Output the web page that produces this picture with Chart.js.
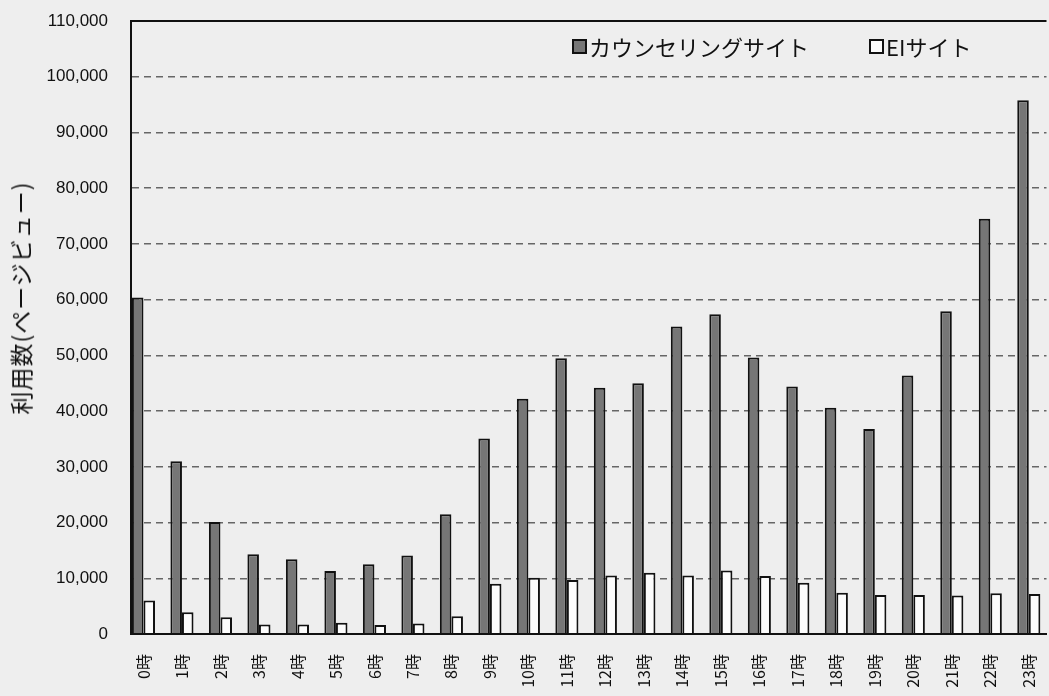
<!DOCTYPE html>
<html lang="ja">
<head>
<meta charset="UTF-8">
<title>時間帯別利用数</title>
<script src="https://cdn.jsdelivr.net/npm/chart.js@4.4.1/dist/chart.umd.min.js"></script>
<style>
    html, body { margin: 0; padding: 0; background: #eeeeee; overflow: hidden; }
    .wrap { position: relative; width: 1049px; height: 696px; }
    #usageChart { position: absolute; left: 0; top: 0; }
    .axis-title {
        position: absolute; left: 20px; top: 298px;
        transform: translate(-50%, -50%) rotate(-90deg);
        font-family: "Noto Sans CJK JP", sans-serif; font-size: 23px; color: #111;
        white-space: nowrap; letter-spacing: 1px;
    }
    .legend {
        position: absolute; left: 572px; top: 32px; display: flex;
        font-family: "Noto Sans CJK JP", sans-serif; font-size: 22px; color: #111;
        line-height: 28px;
    }
    .legend-item { display: flex; align-items: center; margin-right: 60px; }
    .legend-box { width: 11px; height: 11px; border: 2px solid #111; margin-right: 2px; }
</style>
</head>
<body>
<div class="wrap">
    <canvas id="usageChart" width="1049" height="696"></canvas>
    <div class="axis-title" id="yTitle"></div>
    <div class="legend" id="legend"></div>
</div>
<script>
// Datos: categorías (hora del día)
const hours = ['0時', '1時', '2時', '3時', '4時', '5時', '6時', '7時', '8時', '9時', '10時', '11時',
               '12時', '13時', '14時', '15時', '16時', '17時', '18時', '19時', '20時', '21時', '22時', '23時'];

// Series: páginas vistas por hora
const counselingViews = [60400, 31000, 20100, 14300, 13400, 11300, 12500, 14100, 21500, 35100, 42200, 49500,
                         44200, 45000, 55200, 57400, 49600, 44400, 40600, 36800, 46400, 57900, 74500, 95800];
const eiViews = [6000, 3900, 3000, 1700, 1700, 2000, 1600, 1900, 3200, 9000, 10100, 9700,
                 10500, 11000, 10500, 11400, 10400, 9200, 7400, 7000, 7000, 6900, 7300, 7200];

const seriesNames = ['カウンセリングサイト', 'EIサイト'];
const yAxisTitle = '利用数(ページビュー)';
const yMax = 110000;
const yStep = 10000;

const seriesColors = ['#767676', '#fcfcfc'];

function initChart() {
    const ctx = document.getElementById('usageChart').getContext('2d');

    // La línea de 0 y la de 110,000 son continuas, el resto punteadas
    const isEdge = c => c.tick && (c.tick.value === 0 || c.tick.value === yMax);

    new Chart(ctx, {
        type: 'bar',
        data: {
            datasets: [
                {
                    label: seriesNames[0],
                    data: counselingViews.map((v, i) => ({ x: i, y: v })),
                    backgroundColor: seriesColors[0],
                    borderColor: '#111',
                    borderWidth: 2
                },
                {
                    label: seriesNames[1],
                    data: eiViews.map((v, i) => ({ x: i, y: v })),
                    backgroundColor: seriesColors[1],
                    borderColor: '#111',
                    borderWidth: 2
                }
            ]
        },
        options: {
            responsive: false,
            animation: false,
            categoryPercentage: 0.6,
            barPercentage: 1,
            layout: { padding: { top: 21, right: 0, bottom: 0, left: 0 } },
            plugins: {
                legend: { display: false },
                tooltip: { enabled: false }
            },
            scales: {
                x: {
                    type: 'linear',
                    min: -0.324,
                    max: 23.46,
                    offset: false,
                    // marcas invisibles para separar las etiquetas del eje
                    grid: { display: false, offset: false, drawTicks: true, tickLength: 19, tickColor: 'transparent' },
                    border: { display: true, color: '#111', width: 2 },
                    ticks: {
                        stepSize: 1,
                        autoSkip: false,
                        includeBounds: false,
                        minRotation: 90,
                        maxRotation: 90,
                        padding: 1,
                        color: '#111',
                        font: { family: '"Noto Sans CJK JP", sans-serif', size: 16 },
                        callback: value => hours[value] ?? ''
                    },
                    afterFit: scale => { scale.height = 62; }
                },
                y: {
                    min: 0,
                    max: yMax,
                    grid: {
                        drawTicks: true,
                        tickLength: 20,
                        tickColor: 'transparent',
                        color: c => isEdge(c) ? '#111' : '#666',
                        lineWidth: c => isEdge(c) ? 2 : 1.5
                    },
                    border: {
                        display: true, color: '#111', width: 2,
                        dash: c => isEdge(c) ? [] : [7, 5]
                    },
                    ticks: {
                        stepSize: yStep,
                        padding: 3,
                        color: '#111',
                        font: { family: '"Liberation Sans", Arial, sans-serif', size: 17 },
                        callback: value => value.toLocaleString('en-US')
                    },
                    afterFit: scale => { scale.width = 131; }
                }
            }
        }
    });

    // Título del eje Y y leyenda como texto HTML
    document.getElementById('yTitle').textContent = yAxisTitle;

    const legend = document.getElementById('legend');
    seriesNames.forEach((name, i) => {
        const item = document.createElement('div');
        item.className = 'legend-item';
        item.innerHTML = `<span class="legend-box" style="background:${seriesColors[i]}"></span><span>${name}</span>`;
        legend.appendChild(item);
    });
}

initChart();
</script>
</body>
</html>
